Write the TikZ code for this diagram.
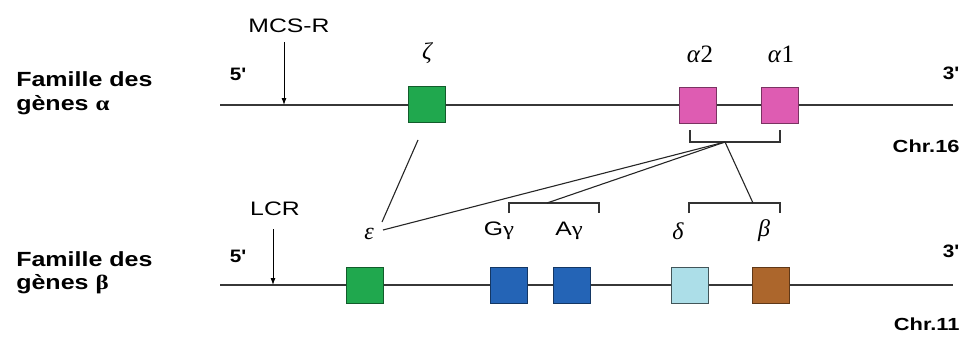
\documentclass[tikz,border=0pt]{standalone}
\usepackage{fontspec}
\setmainfont{Liberation Sans}
\newfontfamily\greekserif{Liberation Serif}
\usetikzlibrary{arrows.meta}
\definecolor{genegreen}{RGB}{32,168,78}
\definecolor{genepink}{RGB}{222,92,178}
\definecolor{geneblue}{RGB}{36,100,182}
\definecolor{genecyan}{RGB}{172,222,232}
\definecolor{genebrown}{RGB}{172,102,44}
\definecolor{chromline}{RGB}{55,55,55}
\begin{document}
\begin{tikzpicture}[x=1pt,y=-1pt,
  chrom/.style={draw=chromline,line width=1.4pt},
  gene/.style={draw=#1!55!black,line width=0.8pt,minimum width=37pt,minimum height=36pt,inner sep=0pt},
  family/.style={font=\bfseries\fontsize{20.5}{23.5}\selectfont,align=left,anchor=west,xscale=1.22,transform shape},
  endlabel/.style={font=\bfseries\fontsize{18}{21}\selectfont,xscale=1.15,transform shape},
  chrlabel/.style={font=\bfseries\fontsize{17.5}{20}\selectfont,anchor=east,xscale=1.25,transform shape},
  glabel/.style={font=\greekserif\itshape\fontsize{24}{27}\selectfont},
  slabel/.style={font=\fontsize{19.5}{22}\selectfont,xscale=1.27,transform shape},
  regarrow/.style={draw=black,line width=0.9pt,-{Latex[length=7pt,width=5pt]}},
  link/.style={draw=black!85,line width=1.1pt},
  bracket/.style={draw=black!80,line width=1.1pt}]
\useasboundingbox (0,0) rectangle (969,340);

% ---- alpha-globin locus (chromosome 16) ----
\node[family] (famA) at (12,93) {Famille des\\gènes {\greekserif α}};
\coordinate (a5) at (220,105);
\coordinate (a3) at (953,105);
\draw[chrom] (a5) -- (a3);
\node[endlabel] (fiveA) at (238,74) {5\textquotesingle};
\node[endlabel] (threeA) at (951,73) {3\textquotesingle};
\node[chrlabel] (chrA) at (964,146) {Chr.16};
\node[slabel] (mcs) at (289,26) {MCS-R};
\coordinate (mcsT) at (284,42);
\coordinate (mcsH) at (284,105);
\draw[regarrow] (mcsT) -- (mcsH);

\node[gene=genegreen,fill=genegreen] (zeta) at (427,104) {};
\node[gene=genepink,fill=genepink] (a2) at (698,105) {};
\node[gene=genepink,fill=genepink] (a1) at (780,105) {};
\node[glabel] (zetaL) at (427,53) {ζ};
\node[glabel,font=\greekserif\fontsize{25}{28}\selectfont] (a2L) at (700,54) {\textit{α}2};
\node[glabel,font=\greekserif\fontsize{25}{28}\selectfont] (a1L) at (781,54) {\textit{α}1};

% bracket grouping alpha2 / alpha1
\coordinate (abL) at (690,130);
\coordinate (abR) at (780,130);
\coordinate (abC) at (725,142);
\draw[bracket] (abL) -- (690,142) -- (780,142) -- (abR);

% ---- beta-globin locus (chromosome 11) ----
\node[family] (famB) at (12,273) {Famille des\\gènes {\greekserif β}};
\coordinate (b5) at (220,285);
\coordinate (b3) at (953,285);
\draw[chrom] (b5) -- (b3);
\node[endlabel] (fiveB) at (238,256) {5\textquotesingle};
\node[endlabel] (threeB) at (951,251) {3\textquotesingle};
\node[chrlabel] (chrB) at (964,324) {Chr.11};
\node[slabel] (lcr) at (275,209) {LCR};
\coordinate (lcrT) at (273,229);
\coordinate (lcrH) at (273,285);
\draw[regarrow] (lcrT) -- (lcrH);

\node[gene=genegreen,fill=genegreen] (eps) at (365,285) {};
\node[gene=geneblue,fill=geneblue] (gg) at (509,285) {};
\node[gene=geneblue,fill=geneblue] (ag) at (572,285) {};
\node[gene=genecyan!70!black,fill=genecyan] (delta) at (690,285) {};
\node[gene=genebrown,fill=genebrown] (beta) at (771,285) {};

\node[glabel] (epsL) at (369,234) {ε};
\node[slabel] (ggL) at (499,231) {G{\greekserif γ}};
\node[slabel] (agL) at (569,231) {A{\greekserif γ}};
\node[glabel] (deltaL) at (678,231) {δ};
\node[glabel] (betaL) at (764,231) {β};

% brackets grouping the gamma and the delta/beta genes
\coordinate (gbC) at (547,203);
\draw[bracket] (509,213) -- (509,203) -- (599,203) -- (599,213);
\coordinate (dbC) at (753,203);
\draw[bracket] (689,213) -- (689,203) -- (780,203) -- (780,213);

% ---- evolutionary links ----
\coordinate (zetaEnd) at (382,222);
\draw[link] (418,140) -- (zetaEnd);
\coordinate (epsEnd) at (383,230);
\draw[link] (abC) -- (epsEnd);
\draw[link] (abC) -- (gbC);
\draw[link] (abC) -- (dbC);
\end{tikzpicture}
\end{document}
